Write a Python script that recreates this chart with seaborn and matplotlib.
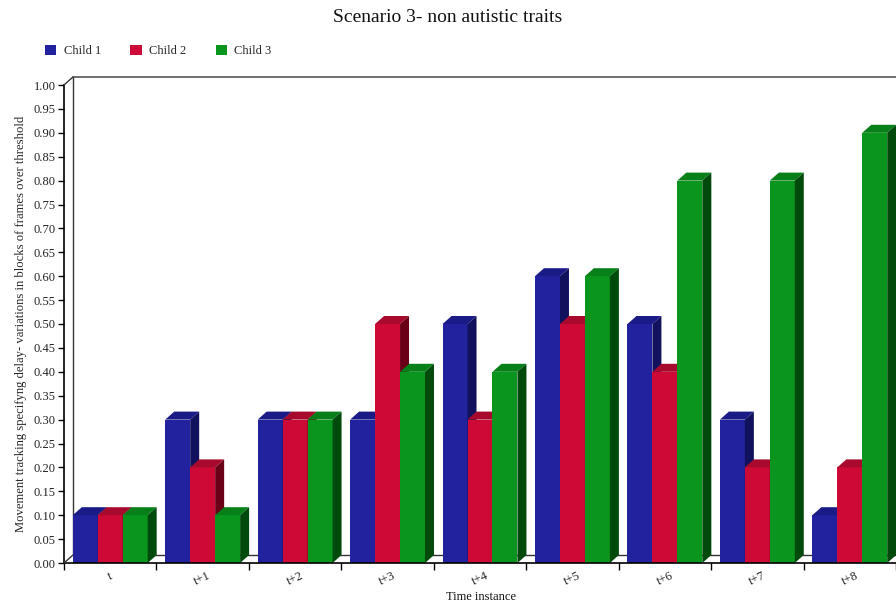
import matplotlib
matplotlib.use("Agg")
import matplotlib.pyplot as plt
import matplotlib.transforms as mtransforms
from matplotlib.patches import Polygon, Rectangle
from matplotlib.lines import Line2D
import numpy as np
import pandas as pd
import seaborn as sns

# ---- data ----
time_labels = ["t", "t+1", "t+2", "t+3", "t+4", "t+5", "t+6", "t+7", "t+8"]
children = ["Child 1", "Child 2", "Child 3"]
child1 = [0.10, 0.30, 0.30, 0.30, 0.50, 0.60, 0.50, 0.30, 0.10]
child2 = [0.10, 0.20, 0.30, 0.50, 0.30, 0.50, 0.40, 0.20, 0.20]
child3 = [0.10, 0.10, 0.30, 0.40, 0.40, 0.60, 0.80, 0.80, 0.90]
y_ticks = [round(v, 2) for v in np.arange(0, 1.0001, 0.05)]

front_colors = ["#22229E", "#CC0A35", "#0A961E"]
top_colors = ["#1B1B88", "#A80A2E", "#08801A"]
side_colors = ["#11115E", "#6A0018", "#004A0C"]

df = pd.DataFrame({
    "time": time_labels * 3,
    "child": sum([[c] * len(time_labels) for c in children], []),
    "value": child1 + child2 + child3,
})

sns.set_theme(style="white")
plt.rcParams["font.family"] = ["Liberation Serif", "DejaVu Serif"]

W, H, DPI = 896, 603, 100
fig = plt.figure(figsize=(W / DPI, H / DPI), dpi=DPI)
ax = fig.add_axes([64 / W, (H - 563) / H, 832 / W, 478 / H])

sns.barplot(data=df, x="time", y="value", hue="child", order=time_labels,
            hue_order=children, palette=front_colors, saturation=1,
            width=0.81, edgecolor="none", linewidth=0, legend=False, ax=ax)

ax.set_xlim(-0.5, len(time_labels) - 0.5)
ax.set_ylim(0, 1.0)

# pixel depth of the pseudo-3D extrusion, converted to data units
px_x = 92.4  # pixels per category
px_y = 478.0  # pixels per unit of y
depth_px = (9, 8)
ddx = depth_px[0] / px_x
ddy = depth_px[1] / px_y

bars = [p for p in ax.patches if isinstance(p, Rectangle) and p.get_width() > 0]
bars.sort(key=lambda p: p.get_x())
color_idx = {}
for p in ax.patches:
    fc = matplotlib.colors.to_hex(p.get_facecolor())
    for i, c in enumerate(front_colors):
        if fc.lower() == c.lower():
            color_idx[id(p)] = i

for k, p in enumerate(bars):
    i = color_idx.get(id(p), 0)
    x0, w, h = p.get_x(), p.get_width(), p.get_height()
    z = 3 + k
    p.set_zorder(z)
    p.set_clip_on(False)
    top = Polygon([(x0, h), (x0 + ddx, h + ddy), (x0 + w + ddx, h + ddy), (x0 + w, h)],
                  closed=True, facecolor=top_colors[i], edgecolor="none",
                  zorder=z, clip_on=False)
    side = Polygon([(x0 + w, 0), (x0 + w + ddx, ddy), (x0 + w + ddx, h + ddy), (x0 + w, h)],
                   closed=True, facecolor=side_colors[i], edgecolor="none",
                   zorder=z, clip_on=False)
    ax.add_patch(top)
    ax.add_patch(side)

# back wall and floor outline
off = mtransforms.ScaledTranslation(depth_px[0] / DPI, depth_px[1] / DPI, fig.dpi_scale_trans)
shifted = ax.transAxes + off
wall_kw = dict(color="#333333", linewidth=1.0, clip_on=False, zorder=1)
ax.add_line(Line2D([0, 0, 1.2], [1, 0, 0], transform=shifted, **wall_kw))
ax.add_line(Line2D([0, 1.2], [1, 1], transform=shifted, color="#555555",
                   linewidth=1.2, clip_on=False, zorder=1))
for yy in (0, 1):
    p0 = ax.transAxes.transform((0, yy))
    p1 = shifted.transform((0, yy))
    inv = fig.transFigure.inverted()
    a, b = inv.transform(p0), inv.transform(p1)
    fig.add_artist(Line2D([a[0], b[0]], [a[1], b[1]], transform=fig.transFigure,
                          color="#333333", linewidth=1.0))

# axes styling
for s in ("top", "right"):
    ax.spines[s].set_visible(False)
for s in ("left", "bottom"):
    ax.spines[s].set_color("black")
    ax.spines[s].set_linewidth(1.2)
    ax.spines[s].set_zorder(50)

ax.set_yticks(y_ticks)
ax.set_yticklabels([f"{v:.2f}" for v in y_ticks], fontsize=9, color="#222222")
ax.tick_params(axis="y", direction="out", length=4, width=1, color="black", pad=2, left=True)

ax.set_xticks(np.arange(-0.5, len(time_labels), 1.0))
ax.set_xticklabels([])
ax.tick_params(axis="x", which="major", direction="out", length=5, width=1,
               color="black", bottom=True)
ax.set_xticks(np.arange(len(time_labels)), minor=True)
ax.set_xticklabels(time_labels, minor=True, rotation=25, fontsize=9, color="#222222")
ax.tick_params(axis="x", which="minor", length=0, pad=5)

ax.set_xlabel("")
ax.set_ylabel("Movement tracking specifyng delay- variations in blocks of frames over threshold",
              fontsize=9.1, labelpad=5)
ax.grid(False)

fig.text(481 / W, 1 - 597 / H, "Time instance", ha="center", va="center",
         fontsize=9, color="#111111")
fig.text(448 / W, 1 - 17 / H, "Scenario 3- non autistic traits", ha="center", va="center",
         fontsize=14, color="#111111")

handles = [Rectangle((0, 0), 1, 1, facecolor=c, edgecolor="none") for c in front_colors]
fig.legend(handles, children, loc="center left", bbox_to_anchor=(40 / W, 1 - 51 / H),
           ncol=3, frameon=False, fontsize=9, handlelength=0.9, handleheight=0.9,
           handletextpad=0.6, columnspacing=2.35, borderaxespad=0)

fig.savefig("out.png", dpi=DPI)
